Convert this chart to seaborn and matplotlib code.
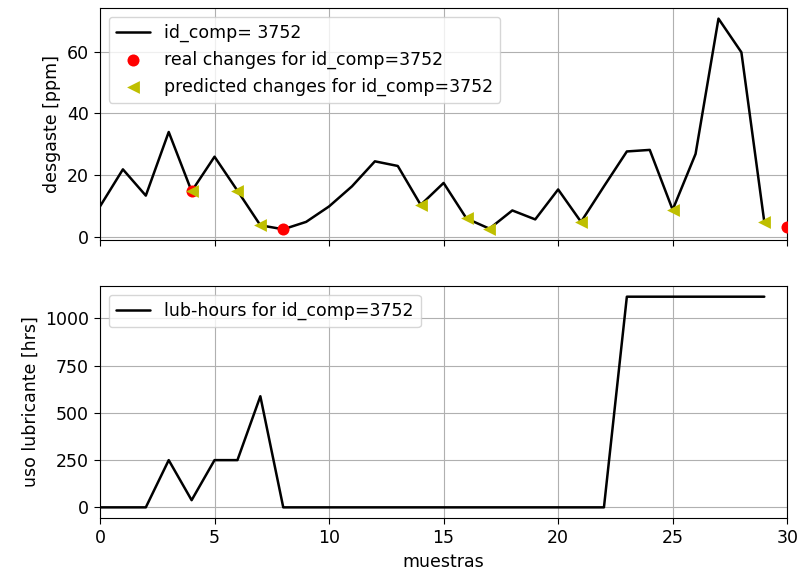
import matplotlib
matplotlib.use("Agg")
import matplotlib.pyplot as plt
import seaborn as sns
import numpy as np

# wear per sample (ppm)
samples = list(range(30))
wear = [9.9, 21.9, 13.4, 34.0, 14.8, 26.0, 15.0, 3.8, 2.5, 4.9,
        9.9, 16.4, 24.5, 23.0, 10.4, 17.5, 6.0, 2.7, 8.6, 5.7,
        15.4, 4.9, 16.4, 27.7, 28.2, 8.8, 26.9, 70.7, 59.8, 4.9]

# real and predicted lubricant changes
real_x = [4, 8, 30]
real_y = [14.8, 2.5, 3.3]
pred_x = [4, 6, 7, 14, 16, 17, 21, 25, 29]
pred_y = [14.8, 15.0, 3.8, 10.4, 6.0, 2.7, 4.9, 8.6, 4.9]

# lubricant hours per sample
lub_hours = [0, 0, 0, 250, 38, 250, 250, 588, 0, 0,
             0, 0, 0, 0, 0, 0, 0, 0, 0, 0,
             0, 0, 0, 1115, 1115, 1115, 1115, 1115, 1115, 1115]

comp = 3752

sns.set_style("ticks", {"axes.grid": True, "grid.color": "#b0b0b0",
                        "axes.edgecolor": "black", "text.color": "black",
                        "axes.labelcolor": "black", "xtick.color": "black",
                        "ytick.color": "black"})
plt.rcParams['font.family'] = ['DejaVu Sans']
plt.rcParams['font.size'] = 12.5
plt.rcParams['xtick.major.size'] = 4.5
plt.rcParams['ytick.major.size'] = 4.5

fig, (ax1, ax2) = plt.subplots(2, 1, figsize=(8, 5.78), dpi=100, sharex=True)
fig.subplots_adjust(left=0.125, right=0.984, top=0.986, bottom=0.104, hspace=0.2)

sns.lineplot(x=samples, y=wear, color='k', lw=1.8, ax=ax1, label=f'id_comp= {comp}')
sns.scatterplot(x=real_x, y=real_y, color='red', marker='o', s=75, linewidth=0,
                ax=ax1, label=f'real changes for id_comp={comp}', zorder=3)
sns.scatterplot(x=pred_x, y=pred_y, color='#bfbf00', marker='<', s=85, linewidth=0,
                ax=ax1, label=f'predicted changes for id_comp={comp}', zorder=4)
ax1.set_ylabel('desgaste [ppm]')
ax1.legend(loc='upper left')
ax1.set_yticks([0, 20, 40, 60])

sns.lineplot(x=samples, y=lub_hours, color='k', lw=1.8, ax=ax2,
             label=f'lub-hours for id_comp={comp}')
ax2.set_ylabel('uso lubricante [hrs]')
ax2.set_xlabel('muestras')
ax2.set_yticks([0, 250, 500, 750, 1000])
ax2.legend(loc='upper left')
ax2.set_xlim(0, 30)
ax2.set_xticks(np.arange(0, 31, 5))

for ax in (ax1, ax2):
    for s in ax.spines.values():
        s.set_visible(True)
        s.set_color('black')

fig.savefig('out.png')
